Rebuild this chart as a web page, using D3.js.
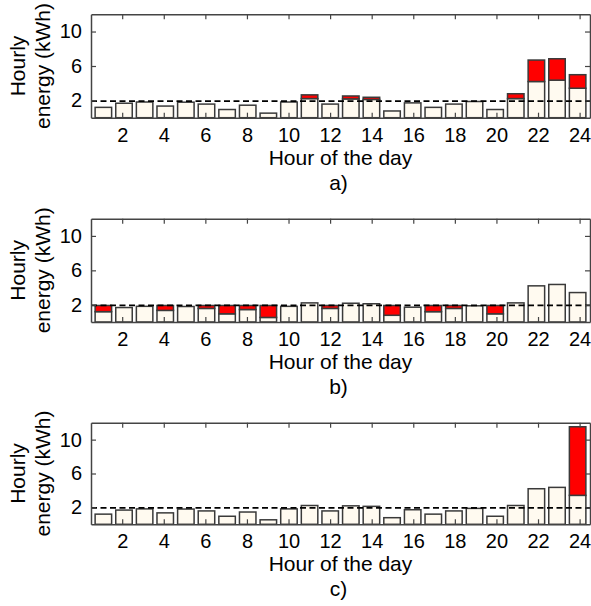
<!DOCTYPE html>
<html>
<head>
<meta charset="utf-8">
<script src="https://cdn.jsdelivr.net/npm/d3@7"></script>
<style>
  html, body { margin: 0; padding: 0; background: #fff; }
  svg { display: block; font-family: "Liberation Sans", Arial, sans-serif; }
</style>
</head>
<body>
<svg id="chart" width="591" height="606"></svg>
<script>
// ---- data ----
const hours = d3.range(1, 25);
const baseEnergy = [1.2, 1.68, 1.82, 1.35, 1.8, 1.58, 0.95, 1.45, 0.53, 1.82, 2.22, 1.58,
                    2.18, 2.12, 0.78, 1.72, 1.2, 1.58, 1.88, 0.95, 2.22, 4.2, 4.36, 3.42];
const shiftA = [0, 0, 0, 0, 0, 0, 0, 0, 0, 0, 0.43, 0,
                0.34, 0.25, 0, 0, 0, 0, 0, 0, 0.56, 2.49, 2.48, 1.57];
const shiftB = [0.72, 0, 0, 0.57, 0, 0.34, 0.97, 0.47, 1.39, 0, 0, 0.34,
                0, 0, 1.14, 0, 0.72, 0.34, 0, 0.97, 0, 0, 0, 0];
const shiftC = [0, 0, 0, 0, 0, 0, 0, 0, 0, 0, 0, 0,
                0, 0, 0, 0, 0, 0, 0, 0, 0, 0, 0, 8.1];
const threshold = 1.93;
const panelLabels = ["a)", "b)", "c)"];
const xTickValues = [2, 4, 6, 8, 10, 12, 14, 16, 18, 20, 22, 24];
const yTickValues = [2, 6, 10];
const xTitle = "Hour of the day";
const yTitle = ["Hourly", "energy (kWh)"];

// ---- layout ----
const svg = d3.select("#chart");
const left = 91, right = 590;
const panels = [
  { top: 14.3, bottom: 117.7, shift: shiftA },
  { top: 218.7, bottom: 322, shift: shiftB },
  { top: 422.7, bottom: 524.3, shift: shiftC }
];
const cream = "#fffaf0", red = "#ff0000", barStroke = "#3a3a3a", frameCol = "#444";

const x = d3.scaleBand().domain(hours).range([left, right]).padding(0.2);
const xLin = d3.scaleLinear().domain([0.5, 24.5]).range([left, right]);

panels.forEach((p, i) => {
  const y = d3.scaleLinear().domain([0, 12]).range([p.bottom, p.top]);
  const g = svg.append("g");
  const data = hours.map((h, k) => ({ h, base: baseEnergy[k], add: p.shift[k] }));

  // base bars
  g.selectAll("rect.base").data(data).join("rect")
    .attr("x", d => x(d.h)).attr("width", x.bandwidth())
    .attr("y", d => y(d.base)).attr("height", d => y(0) - y(d.base))
    .attr("fill", cream).attr("stroke", barStroke).attr("stroke-width", 1.5);
  // shifted (red) portion
  g.selectAll("rect.add").data(data.filter(d => d.add > 0)).join("rect")
    .attr("x", d => x(d.h)).attr("width", x.bandwidth())
    .attr("y", d => y(d.base + d.add)).attr("height", d => y(d.base) - y(d.base + d.add))
    .attr("fill", red).attr("stroke", barStroke).attr("stroke-width", 1.5);

  // threshold dashed line
  g.append("line")
    .attr("x1", left).attr("x2", right)
    .attr("y1", y(threshold)).attr("y2", y(threshold))
    .attr("stroke", "#000").attr("stroke-width", 1.8).attr("stroke-dasharray", "6,3.5");

  // axes (ticks inward)
  const axB = g.append("g").attr("transform", `translate(0,${p.bottom})`)
    .call(d3.axisBottom(xLin).tickValues(xTickValues).tickSizeInner(-5).tickSizeOuter(0).tickPadding(10));
  const axT = g.append("g").attr("transform", `translate(0,${p.top})`)
    .call(d3.axisTop(xLin).tickValues(xTickValues).tickSizeInner(-5).tickSizeOuter(0).tickFormat(""));
  const axL = g.append("g").attr("transform", `translate(${left},0)`)
    .call(d3.axisLeft(y).tickValues(yTickValues).tickSizeInner(-5).tickSizeOuter(0).tickPadding(9));
  const axR = g.append("g").attr("transform", `translate(${right},0)`)
    .call(d3.axisRight(y).tickValues(yTickValues).tickSizeInner(-5).tickSizeOuter(0).tickFormat(""));
  [axB, axT, axL, axR].forEach(a => {
    a.select(".domain").attr("stroke", frameCol).attr("stroke-width", 1.5);
    a.selectAll(".tick line").attr("stroke", frameCol).attr("stroke-width", 1.2);
    a.selectAll(".tick text").attr("fill", "#000").style("font-size", "20px")
      .style("font-family", '"Liberation Sans", Arial, sans-serif');
  });
  axB.selectAll(".tick text").attr("dy", "0.71em");

  // titles
  const cx = (left + right) / 2;
  g.append("text").attr("x", cx).attr("y", p.bottom + 47).attr("text-anchor", "middle")
    .style("font-size", "21px").text(xTitle);
  g.append("text").attr("x", cx - 2).attr("y", p.bottom + 72).attr("text-anchor", "middle")
    .style("font-size", "21px").text(panelLabels[i]);
  const cy = (p.top + p.bottom) / 2;
  yTitle.forEach((t, j) => {
    g.append("text")
      .attr("transform", `translate(${j === 0 ? 25 : 50},${cy}) rotate(-90)`)
      .attr("text-anchor", "middle").style("font-size", "21px").text(t);
  });
});
</script>
</body>
</html>
